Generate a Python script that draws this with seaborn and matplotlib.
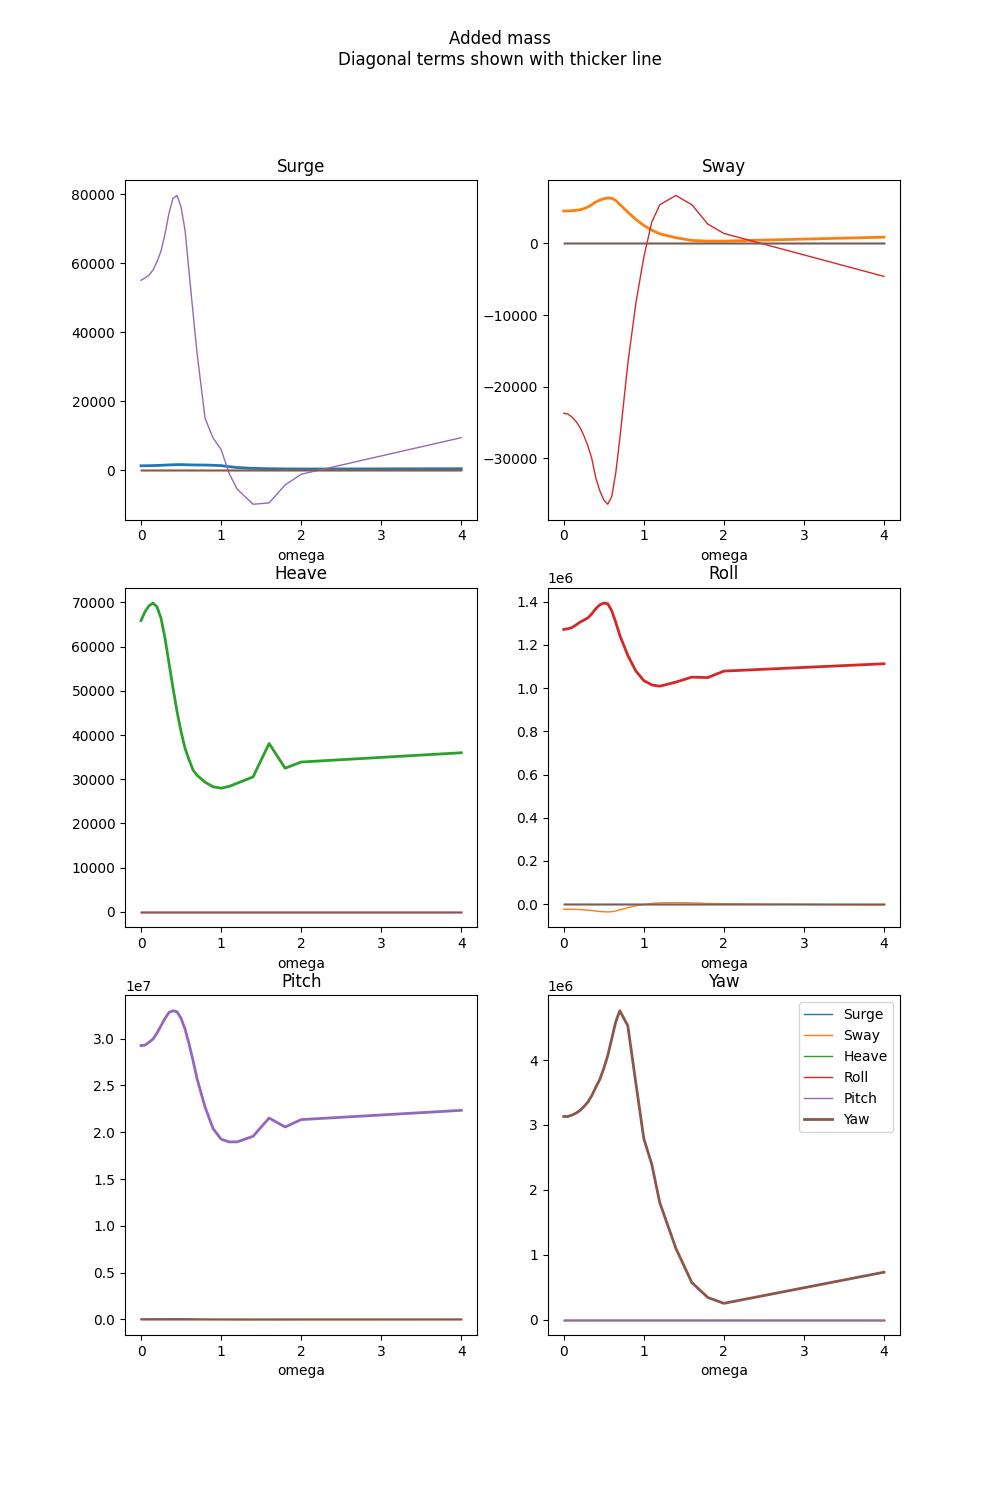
import matplotlib
matplotlib.use("Agg")
import matplotlib.pyplot as plt
import seaborn as sns

# frequencies (rad/s)
omega = [0.0, 0.05, 0.1, 0.15, 0.2, 0.25, 0.3, 0.35, 0.4, 0.45, 0.5, 0.55, 0.6,
         0.65, 0.7, 0.8, 0.9, 1.0, 1.1, 1.2, 1.4, 1.6, 1.8, 2.0, 4.0]

modes = ['Surge', 'Sway', 'Heave', 'Roll', 'Pitch', 'Yaw']

zero = [0, 0, 0, 0, 0, 0, 0, 0, 0, 0, 0, 0, 0,
        0, 0, 0, 0, 0, 0, 0, 0, 0, 0, 0, 0]

# diagonal terms
a_surge = [1250, 1260, 1280, 1300, 1350, 1400, 1450, 1500, 1550, 1580, 1590, 1560, 1520,
           1500, 1480, 1470, 1400, 1300, 1000, 750, 500, 400, 350, 320, 400]
a_sway = [4520, 4540, 4560, 4620, 4700, 4850, 5080, 5400, 5780, 6050, 6250, 6350, 6300,
          6000, 5450, 4380, 3350, 2520, 1850, 1350, 800, 420, 330, 330, 880]
a_heave = [65900, 67900, 69250, 69850, 69000, 66400, 61900, 56200, 50600, 45300, 40800, 37000, 34400,
           32100, 30900, 29350, 28300, 28000, 28380, 29100, 30550, 38100, 32500, 33900, 36000]
a_roll = [1.272e6, 1.275e6, 1.280e6, 1.292e6, 1.305e6, 1.315e6, 1.325e6, 1.344e6, 1.368e6, 1.386e6, 1.394e6, 1.391e6, 1.358e6,
          1.305e6, 1.245e6, 1.152e6, 1.080e6, 1.035e6, 1.015e6, 1.009e6, 1.028e6, 1.051e6, 1.049e6, 1.079e6, 1.113e6]
a_pitch = [2.926e7, 2.930e7, 2.961e7, 2.996e7, 3.060e7, 3.138e7, 3.216e7, 3.280e7, 3.298e7, 3.287e7, 3.216e7, 3.103e7, 2.943e7,
           2.766e7, 2.571e7, 2.269e7, 2.039e7, 1.926e7, 1.897e7, 1.897e7, 1.957e7, 2.152e7, 2.056e7, 2.135e7, 2.234e7]
a_yaw = [3.13e6, 3.13e6, 3.15e6, 3.18e6, 3.22e6, 3.28e6, 3.35e6, 3.45e6, 3.58e6, 3.70e6, 3.87e6, 4.07e6, 4.33e6,
         4.59e6, 4.76e6, 4.53e6, 3.65e6, 2.79e6, 2.39e6, 1.80e6, 1.10e6, 0.57e6, 0.34e6, 0.25e6, 0.73e6]

# coupling terms (symmetric)
a_surge_pitch = [55000, 55700, 56500, 58000, 60400, 63500, 68500, 74500, 78800, 79600, 76300, 69500, 57500,
                 45500, 33900, 15000, 9300, 6000, -900, -5500, -9900, -9500, -4300, -1200, 9400]
a_sway_roll = [-23700, -23800, -24200, -24800, -25600, -26800, -28200, -30000, -32700, -34500, -35800, -36400, -35300,
               -32000, -27300, -16800, -8400, -1900, 3000, 5400, 6700, 5400, 2700, 1400, -4600]

added_mass = {
    'Surge': [a_surge, zero, zero, zero, a_surge_pitch, zero],
    'Sway': [zero, a_sway, zero, a_sway_roll, zero, zero],
    'Heave': [zero, zero, a_heave, zero, zero, zero],
    'Roll': [zero, a_sway_roll, zero, a_roll, zero, zero],
    'Pitch': [a_surge_pitch, zero, zero, zero, a_pitch, zero],
    'Yaw': [zero, zero, zero, zero, zero, a_yaw],
}

colors = sns.color_palette('tab10', 6)

fig, axes = plt.subplots(3, 2, figsize=(10, 15))
for i, (mode, ax) in enumerate(zip(modes, axes.flat)):
    for j, other in enumerate(modes):
        lw = 2 if i == j else 1
        sns.lineplot(x=omega, y=added_mass[mode][j], ax=ax, color=colors[j],
                     linewidth=lw, label=other, legend=False, errorbar=None)
    ax.set_title(mode)
    ax.set_xlabel('omega')

axes.flat[-1].legend(loc='upper right')
fig.suptitle('Added mass\nDiagonal terms shown with thicker line')
plt.savefig('out.png', dpi=100)
